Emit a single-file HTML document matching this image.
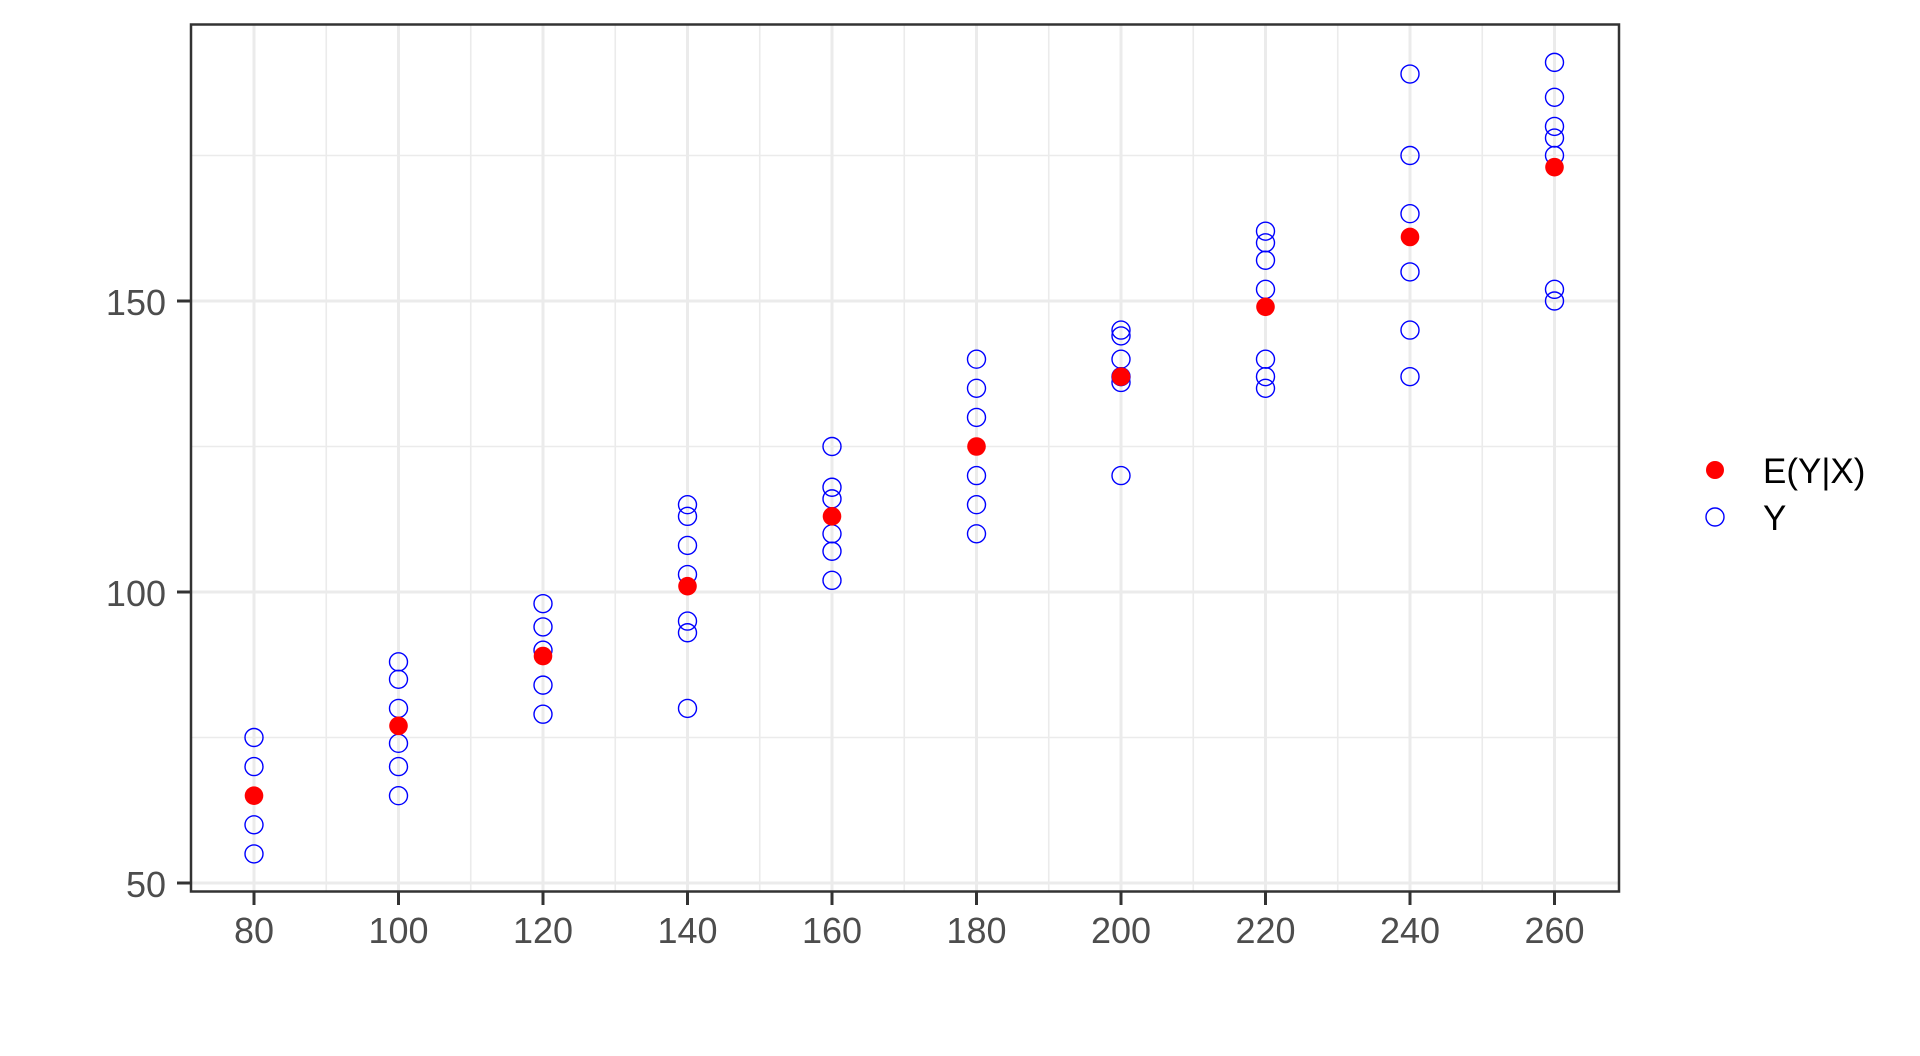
<!DOCTYPE html>
<html><head><meta charset="utf-8"><style>
html,body{margin:0;padding:0;background:#fff;}
svg{display:block;}
text{font-family:"Liberation Sans",Arial,sans-serif;}
</style></head><body>
<svg id="s" width="1920" height="1056" viewBox="0 0 1920 1056" xmlns="http://www.w3.org/2000/svg">
<rect width="1920" height="1056" fill="#fff"/>
<g id="grid"></g>
<g id="pts"></g>
<rect x="191" y="24.5" width="1428" height="867" fill="none" stroke="#333" stroke-width="2.5"/>
<g id="ticks" stroke="#333" stroke-width="3"></g>
<g font-size="36" fill="#4d4d4d" text-anchor="end">
<text x="166" y="897">50</text>
<text x="166" y="606">100</text>
<text x="166" y="315">150</text>
</g>
<g font-size="36" fill="#4d4d4d" text-anchor="middle">
<text x="254" y="943">80</text>
<text x="398.5" y="943">100</text>
<text x="543" y="943">120</text>
<text x="687.5" y="943">140</text>
<text x="832" y="943">160</text>
<text x="976.5" y="943">180</text>
<text x="1121" y="943">200</text>
<text x="1265.5" y="943">220</text>
<text x="1410" y="943">240</text>
<text x="1554.5" y="943">260</text>
</g>
<circle cx="1715" cy="470" r="9" fill="#ff0000"/>
<circle cx="1715" cy="517" r="9" fill="none" stroke="#0000ff" stroke-width="1.4"/>
<text x="1763" y="483" font-size="35" fill="#000">E(Y|X)</text>
<text x="1763" y="530" font-size="35" fill="#000">Y</text>
</svg>
<script>
var NS="http://www.w3.org/2000/svg";
function X(v){return 254+(v-80)*7.225;}
function Y(v){return 883-(v-50)*5.82;}
function el(p,t,a){var e=document.createElementNS(NS,t);for(var k in a)e.setAttribute(k,a[k]);p.appendChild(e);return e;}
var g=document.getElementById('grid');
[75,125,175].forEach(function(v){el(g,'line',{x1:191,x2:1619,y1:Y(v),y2:Y(v),stroke:'#ebebeb','stroke-width':1.6});});
for(var v=90;v<=250;v+=20)el(g,'line',{x1:X(v),x2:X(v),y1:24,y2:892,stroke:'#ebebeb','stroke-width':1.6});
[50,100,150].forEach(function(v){el(g,'line',{x1:191,x2:1619,y1:Y(v),y2:Y(v),stroke:'#ebebeb','stroke-width':3});});
for(var v=80;v<=260;v+=20)el(g,'line',{x1:X(v),x2:X(v),y1:24,y2:892,stroke:'#ebebeb','stroke-width':3});
var t=document.getElementById('ticks');
[50,100,150].forEach(function(v){el(t,'line',{x1:177,x2:190,y1:Y(v),y2:Y(v)});});
for(var v=80;v<=260;v+=20)el(t,'line',{x1:X(v),x2:X(v),y1:892,y2:905});
var d={80:[[75,70,60,55],65],100:[[88,85,80,74,70,65],77],120:[[98,94,90,84,79],89],140:[[115,113,108,103,95,93,80],101],160:[[125,118,116,110,107,102],113],180:[[140,135,130,120,115,110],125],200:[[145,144,140,137,136,120],137],220:[[162,160,157,152,140,137,135],149],240:[[189,175,165,155,145,137],161],260:[[191,185,180,178,175,152,150],173]};
var p=document.getElementById('pts');
for(var k in d){var x=X(+k);d[k][0].forEach(function(v){el(p,'circle',{cx:x,cy:Y(v),r:9,fill:'none',stroke:'#0000ff','stroke-width':1.4});});
el(p,'circle',{cx:x,cy:Y(d[k][1]),r:9.3,fill:'#ff0000'});}
</script>
</body></html>
